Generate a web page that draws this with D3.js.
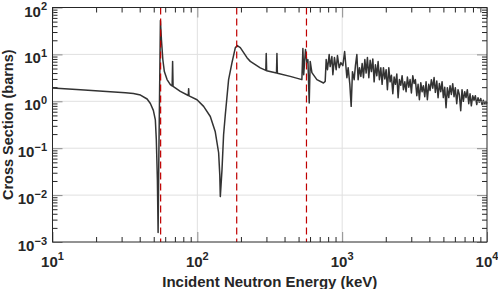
<!DOCTYPE html>
<html>
<head>
<meta charset="utf-8">
<script src="https://cdn.jsdelivr.net/npm/d3@7"></script>
<style>
  body { margin: 0; background: #fff; }
  text { font-family: "Liberation Sans", Arial, Helvetica, sans-serif; font-weight: bold; fill: #262626; }
</style>
</head>
<body>
<div id="chart"></div>
<script>
// incident energy (keV) and total cross section (barns)
var energyKeV = [
    10, 15.6, 25.1, 31.9, 36.2, 40.5, 45.0, 47.4, 49.7, 51.3, 52.1, 53.0, 53.6, 54.3, 55.0, 55.6,
    56.5, 57.8, 59.2, 61.8, 65.1, 67.0, 67.5, 68.0, 76.3, 86.6, 87.1, 87.6, 99.5, 110.5, 122.9,
    133.0, 140.3, 142.9, 144.1, 148.0, 151.8, 156.0, 164.4, 173.5, 182.8, 188.7, 198, 220.2, 232.1,
    272, 297, 299, 301, 352, 354.5, 357, 437.9, 527, 535.6, 542.5, 558.3, 570.9, 580, 592.2,
    601.7, 618, 669, 743, 763.5,
    775.6, 791.7, 813.3, 826.3, 849, 862.7, 884.8, 909, 928, 953.4, 979.5, 1011, 1040, 1078,
    1100, 1130, 1154, 1178, 1210, 1235, 1263, 1289, 1316, 1346, 1374, 1403, 1434, 1464, 1494,
    1528, 1560, 1592, 1628, 1662, 1697, 1735, 1771, 1808, 1849, 1887, 1927, 1970, 2011, 2053,
    2099, 2143, 2188, 2237, 2284, 2332, 2384, 2434, 2485, 2540, 2593, 2648, 2707, 2763, 2821,
    2884, 2944, 3006, 3073, 3138, 3203, 3276, 3343, 3414, 3490, 3562, 3637, 3718, 3796, 3875,
    3962, 4045, 4130, 4222, 4311, 4400, 4500, 4594, 4689, 4795, 4895, 4996, 5109, 5215, 5324,
    5444, 5557, 5673, 5800, 5921, 6045, 6180, 6310, 6441, 6585, 6723, 6864, 7018, 7165, 7314,
    7480, 7636, 7795, 7971, 8136, 8307, 8494, 8670, 8852, 9051, 9239, 9431, 9641, 9842, 10000
];
var sigmaBarns = [
    1.92, 1.77, 1.60, 1.53, 1.47, 1.36, 1.12, 0.90, 0.64, 0.40, 0.151, 0.021, 0.0016, 0.092, 2.9, 52.8,
    20.7, 7.7, 4.3, 2.9, 2.26, 2.12, 7.1, 2.08, 1.63, 1.33, 1.86, 1.31, 1.08, 0.78, 0.475,
    0.224, 0.080, 0.027, 0.0093, 0.0345, 0.193, 0.517, 2.9, 6.68, 13.8, 15.4, 14.0, 8.5, 7.1,
    5.15, 4.55, 10.4, 4.5, 4.0, 10.4, 3.97, 3.4, 2.9, 13.3, 3.7, 12.7, 6.68, 7.7, 0.92,
    7.1, 4.08, 2.9, 2.46, 2.66,
    7.74, 4.73, 9.9, 5.49, 8.97, 3.70, 8.54, 4.73, 9.43, 5.22, 6.68, 5.76, 11.5, 3.19,
    5.22, 2.26, 0.78, 4.29, 2.89, 5.76, 9.9, 2.89, 5.22, 3.4, 6.36, 3.19, 7.74, 4.0, 8.54,
    3.19, 7.5, 4.3, 8.0, 2.6, 6.0, 3.5, 7.02, 2.89, 5.2, 2.3, 5.22, 3.0, 4.73, 1.77,
    5.22, 2.6, 3.6, 1.45, 3.3, 2.3, 3.8, 1.19, 2.9, 2.2, 3.52, 1.77, 2.6, 1.6, 3.3,
    2.0, 2.9, 1.5, 3.52, 2.4, 2.9, 1.32, 2.3, 1.08, 2.5, 1.6, 2.15, 1.25, 2.6, 1.08,
    2.3, 1.7, 2.89, 1.9, 3.2, 1.55, 2.7, 1.19, 2.4, 1.6, 2.62, 1.2, 2.0, 0.73, 1.95,
    1.2, 2.15, 1.4, 2.38, 1.25, 1.95, 0.89, 1.77, 1.4, 0.63, 1.77, 1.0, 1.6, 1.2, 1.77,
    0.89, 1.45, 0.8, 1.32, 1.05, 1.32, 0.85, 1.19, 0.95, 1.15, 0.85, 1.05, 0.9, 1.0, 0.9
];

// resonance markers (red dashed lines)
var markerKeV = [55.8, 187, 567];

// tick labels
var xMajor = [1e1, 1e2, 1e3, 1e4];
var xExp = ["1", "2", "3", "4"];
var yMajor = [1e-3, 1e-2, 1e-1, 1e0, 1e1, 1e2];
var yExp = ["\u22123", "\u22122", "\u22121", "0", "1", "2"];

var xTitle = "Incident Neutron Energy (keV)";
var yTitle = "Cross Section (barns)";

var data = energyKeV.map(function (e, i) { return { e: e, s: sigmaBarns[i] }; });

// set the dimensions and margins of the graph
var margin = { top: 7.5, right: 11, bottom: 47, left: 52.5 },
    width = 498 - margin.left - margin.right,
    height = 289 - margin.top - margin.bottom;

var svg = d3.select("#chart")
    .append("svg")
    .attr("width", 498)
    .attr("height", 289)
    .append("g")
    .attr("transform", "translate(" + margin.left + "," + margin.top + ")");

var x = d3.scaleLog().domain([10, 1e4]).range([0, width]);
var y = d3.scaleLog().domain([1e-3, 1e2]).range([height, 0]);

// minor ticks 2..9 in each decade
function minors(major) {
    var out = [];
    for (var i = 0; i < major.length - 1; i++) {
        for (var k = 2; k < 10; k++) out.push(major[i] * k);
    }
    return out;
}
var xMinor = minors(xMajor);
var yMinor = minors(yMajor);

// grid
svg.append("g")
    .selectAll("line")
    .data(xMajor.slice(1, -1))
    .enter().append("line")
    .attr("x1", d => x(d)).attr("x2", d => x(d))
    .attr("y1", 0).attr("y2", height)
    .attr("stroke", "#e0e0e0");
svg.append("g")
    .selectAll("line")
    .data(yMajor.slice(1, -1))
    .enter().append("line")
    .attr("x1", 0).attr("x2", width)
    .attr("y1", d => y(d)).attr("y2", d => y(d))
    .attr("stroke", "#e0e0e0");

// the curve
svg.append("path")
    .datum(data)
    .attr("fill", "none")
    .attr("stroke", "#333333")
    .attr("stroke-width", 1.5)
    .attr("stroke-linejoin", "round")
    .attr("d", d3.line()
        .x(d => x(d.e))
        .y(d => y(d.s))
    );

// dashed markers
svg.append("g")
    .selectAll("line")
    .data(markerKeV)
    .enter().append("line")
    .attr("x1", d => x(d)).attr("x2", d => x(d))
    .attr("y1", 0).attr("y2", height)
    .attr("stroke", "#c00000")
    .attr("stroke-width", 1.2)
    .attr("stroke-dasharray", "7,4");

// ticks, inward on all four sides
function ticks(axis, vals, size, color, tr) {
    var g = svg.append("g")
        .attr("transform", tr || null)
        .call(axis.tickValues(vals).tickSize(-size).tickFormat(""));
    g.select(".domain").remove();
    g.selectAll("line").attr("stroke", color);
}
ticks(d3.axisBottom(x), xMinor, 5, "#262626", "translate(0," + height + ")");
ticks(d3.axisTop(x), xMinor, 5, "#262626");
ticks(d3.axisLeft(y), yMinor, 5, "#262626");
ticks(d3.axisRight(y), yMinor, 5, "#262626", "translate(" + width + ",0)");
ticks(d3.axisBottom(x), xMajor, 10, "#8c8c8c", "translate(0," + height + ")");
ticks(d3.axisTop(x), xMajor, 10, "#8c8c8c");
ticks(d3.axisLeft(y), yMajor, 10, "#8c8c8c");
ticks(d3.axisRight(y), yMajor, 10, "#8c8c8c", "translate(" + width + ",0)");

// box
svg.append("rect")
    .attr("width", width).attr("height", height)
    .attr("fill", "none")
    .attr("stroke", "#262626")
    .attr("stroke-width", 1);

// tick labels 10^n
var xl = svg.append("g").selectAll("text")
    .data(xMajor)
    .enter().append("text")
    .attr("x", d => x(d))
    .attr("y", height + 24.5)
    .attr("text-anchor", "middle")
    .style("font-size", "15px");
xl.append("tspan").text("10");
xl.append("tspan").attr("dy", -6.5).style("font-size", "11px").text((d, i) => xExp[i]);

var yl = svg.append("g").selectAll("text")
    .data(yMajor)
    .enter().append("text")
    .attr("x", -5.5)
    .attr("y", d => y(d) + 9)
    .attr("text-anchor", "end")
    .style("font-size", "15px");
yl.append("tspan").text("10");
yl.append("tspan").attr("dy", -6.5).style("font-size", "11px").text((d, i) => yExp[i]);

// axis titles
svg.append("text")
    .attr("x", width / 2)
    .attr("y", height + 44.5)
    .attr("text-anchor", "middle")
    .style("font-size", "15px")
    .text(xTitle);
svg.append("text")
    .attr("transform", "translate(" + (13 - margin.left) + "," + (height / 2) + ") rotate(-90)")
    .attr("text-anchor", "middle")
    .style("font-size", "14.5px")
    .text(yTitle);
</script>
</body>
</html>
